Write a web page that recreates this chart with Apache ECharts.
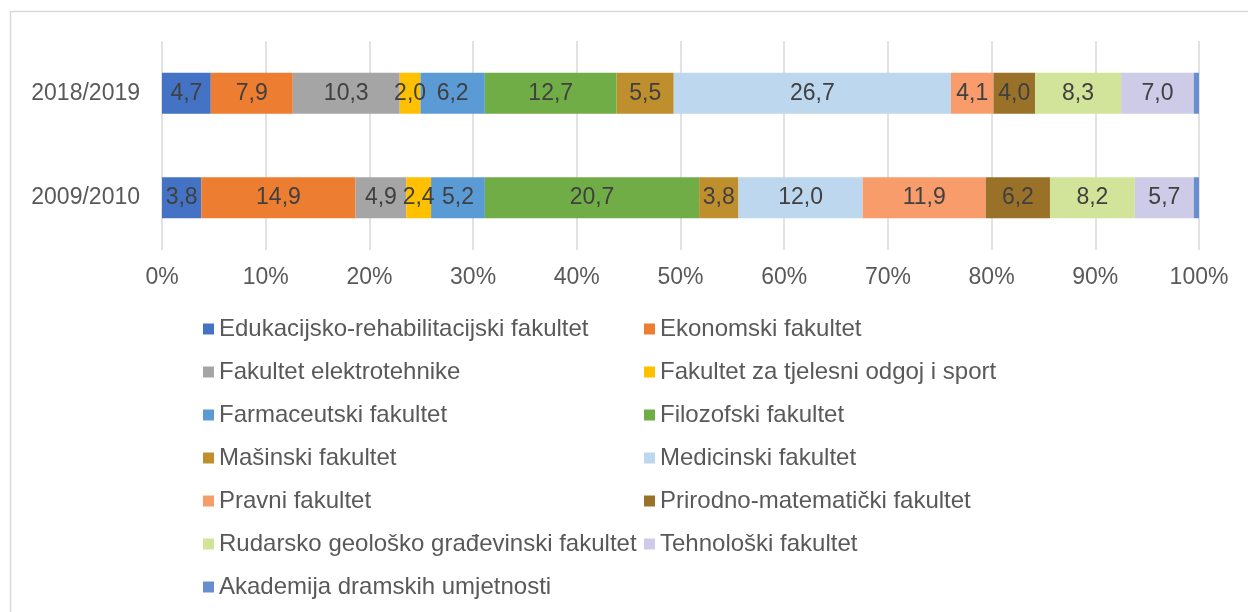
<!DOCTYPE html>
<html>
<head>
<meta charset="utf-8">
<script src="https://cdn.jsdelivr.net/npm/echarts@6/dist/echarts.min.js"></script>
<style>
  html, body { margin: 0; padding: 0; background: #fff; }
  #chart { width: 1248px; height: 612px; }
</style>
</head>
<body>
<div id="chart"></div>
<script>
// akademske godine (odozgo prema dolje)
const categories = ['2018/2019', '2009/2010']

const faculties = [
  'Edukacijsko-rehabilitacijski fakultet',
  'Ekonomski fakultet',
  'Fakultet elektrotehnike',
  'Fakultet za tjelesni odgoj i sport',
  'Farmaceutski fakultet',
  'Filozofski fakultet',
  'Mašinski fakultet',
  'Medicinski fakultet',
  'Pravni fakultet',
  'Prirodno-matematički fakultet',
  'Rudarsko geološko građevinski fakultet',
  'Tehnološki fakultet',
  'Akademija dramskih umjetnosti'
]

// udio studenata (%) po fakultetu
const share20182019 = [4.7, 7.9, 10.3, 2.0, 6.2, 12.7, 5.5, 26.7, 4.1, 4.0, 8.3, 7.0, 0.5]
const share20092010 = [3.8, 14.9, 4.9, 2.4, 5.2, 20.7, 3.8, 12.0, 11.9, 6.2, 8.2, 5.7, 0.5]

const colors = [
  '#4472C4', '#ED7D31', '#A5A5A5', '#FFC000', '#5B9BD5', '#70AD47',
  '#BF8F2E', '#BDD7EE', '#F89C6C', '#9A7129', '#D2E39A', '#CDCBE7', '#698ED0'
]

const font = 'Liberation Sans, Arial, sans-serif'

// 100% naslagano: normalizacija po redu
const sum = arr => arr.reduce((a, b) => a + b, 0)
const tot1 = sum(share20182019)
const tot2 = sum(share20092010)

const series = faculties.map((name, i) => ({
  name: name,
  type: 'bar',
  stack: 'total',
  barWidth: 41,
  itemStyle: { color: colors[i] },
  label: {
    show: i < faculties.length - 1,
    position: 'inside',
    color: '#404040',
    fontFamily: font,
    fontSize: 23,
    formatter: p => p.data.raw.toFixed(1).replace('.', ',')
  },
  data: [
    { value: share20182019[i] / tot1 * 100, raw: share20182019[i] },
    { value: share20092010[i] / tot2 * 100, raw: share20092010[i] }
  ]
}))

const leftLegend = faculties.filter((f, i) => i % 2 === 0)
const rightLegend = faculties.filter((f, i) => i % 2 === 1)

const legendBase = {
  orient: 'vertical',
  top: 312,
  itemWidth: 11,
  itemHeight: 11,
  itemGap: 19,
  icon: 'rect',
  selectedMode: false,
  textStyle: { color: '#595959', fontFamily: font, fontSize: 24, lineHeight: 24 }
}

const myChart = echarts.init(document.getElementById('chart'))
myChart.setOption({
  animation: false,
  graphic: [{
    type: 'rect',
    shape: { x: 10.5, y: 11.5, width: 1400, height: 1000 },
    style: { fill: 'none', stroke: '#d9d9d9', lineWidth: 1.5 },
    silent: true
  }],
  grid: { left: 162, right: 49, top: 41, height: 209 },
  legend: [
    Object.assign({ left: 198, data: leftLegend }, legendBase),
    Object.assign({ left: 639, data: rightLegend }, legendBase)
  ],
  xAxis: {
    type: 'value',
    min: 0,
    max: 100,
    interval: 10,
    axisLine: { show: false },
    axisTick: { show: false },
    splitLine: { lineStyle: { color: '#d9d9d9', width: 1.5 } },
    axisLabel: {
      formatter: '{value}%',
      color: '#595959',
      fontFamily: font,
      fontSize: 23,
      margin: 16
    }
  },
  yAxis: {
    type: 'category',
    inverse: true,
    data: categories,
    axisLine: { show: false },
    axisTick: { show: false },
    axisLabel: {
      color: '#595959',
      fontFamily: font,
      fontSize: 23,
      margin: 22
    }
  },
  series: series
})
</script>
</body>
</html>
